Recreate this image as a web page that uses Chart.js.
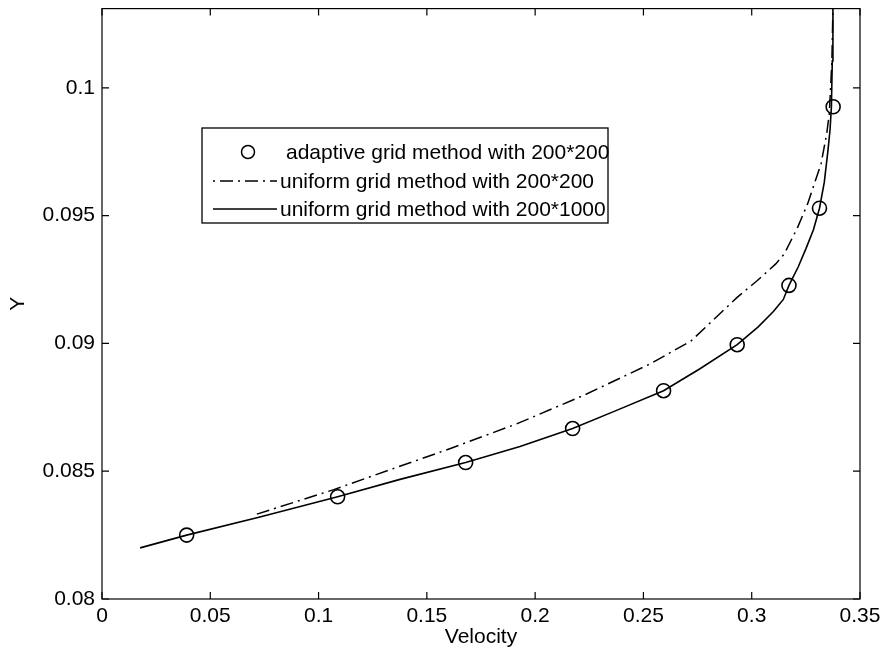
<!DOCTYPE html>
<html><head><meta charset="utf-8">
<script src="https://cdn.jsdelivr.net/npm/chart.js@4/dist/chart.umd.min.js"></script>
<style>html,body{margin:0;padding:0;background:#fff}#wrap{width:887px;height:650px}</style>
</head><body><div id="wrap"><canvas id="c" width="887" height="650"></canvas></div>
<script>
// ---- data ----
const adaptiveX = [0.0391, 0.1088, 0.1679, 0.2173, 0.2593, 0.2933, 0.3172, 0.3313, 0.3376];
const adaptiveY = [0.0825, 0.0840, 0.08534, 0.08667, 0.08815, 0.08995, 0.09227, 0.09529, 0.09926];

const uniform200X = [0.0715, 0.107, 0.1609, 0.1917, 0.2225, 0.2534, 0.2720, 0.2934, 0.3026, 0.3111, 0.3150, 0.3212, 0.3258, 0.3320, 0.3346, 0.3358, 0.3370, 0.3375];
const uniform200Y = [0.08332, 0.08428, 0.08589, 0.08686, 0.08797, 0.08921, 0.09010, 0.09181, 0.09246, 0.09311, 0.09350, 0.09454, 0.09546, 0.09702, 0.09819, 0.09897, 0.10100, 0.1031];

const uniform1000X = [0.0176, 0.0391, 0.0729, 0.1088, 0.1376, 0.1679, 0.1930, 0.2173, 0.2376, 0.2593, 0.2761, 0.2933, 0.3030, 0.3100, 0.3146, 0.3172, 0.3215, 0.3250, 0.3285, 0.3313, 0.3335, 0.3352, 0.3362, 0.3368, 0.3372, 0.3375];
const uniform1000Y = [0.0820, 0.0825, 0.08321, 0.0840, 0.08468, 0.08534, 0.08597, 0.08667, 0.08738, 0.08815, 0.08901, 0.08995, 0.09065, 0.09125, 0.09172, 0.09227, 0.09300, 0.09370, 0.09445, 0.09529, 0.09630, 0.09754, 0.09840, 0.09926, 0.10105, 0.1031];

const seriesNames = ['adaptive grid method with 200*200', 'uniform grid method with 200*200', 'uniform grid method with 200*1000'];
const xTicks = [0, 0.05, 0.1, 0.15, 0.2, 0.25, 0.3, 0.35];
const yTicks = [0.08, 0.085, 0.09, 0.095, 0.1];
const xTitle = 'Velocity';
const yTitle = 'Y';

// ---- build ----
const toPts = (xs, ys) => xs.map((x, i) => ({x: x, y: ys[i]}));
const FONT = 'Liberation Sans, Arial, Helvetica, sans-serif';
const DASHDOT = [13, 5, 2, 5];

const boxTicks = {
  id: 'boxTicks',
  afterDraw(chart) {
    const {ctx, chartArea: a, scales} = chart;
    ctx.save();
    ctx.strokeStyle = '#000';
    ctx.lineWidth = 1.2;
    ctx.setLineDash([]);
    ctx.strokeRect(a.left, a.top, a.right - a.left, a.bottom - a.top);
    const L = 7;
    ctx.beginPath();
    xTicks.forEach(v => {
      const px = scales.x.getPixelForValue(v);
      ctx.moveTo(px, a.bottom); ctx.lineTo(px, a.bottom - L);
      ctx.moveTo(px, a.top); ctx.lineTo(px, a.top + L);
    });
    yTicks.forEach(v => {
      const py = scales.y.getPixelForValue(v);
      ctx.moveTo(a.left, py); ctx.lineTo(a.left + L, py);
      ctx.moveTo(a.right, py); ctx.lineTo(a.right - L, py);
    });
    ctx.stroke();

    // legend box
    const bx = 202, by = 128, bw = 406, bh = 95;
    ctx.fillStyle = '#fff';
    ctx.fillRect(bx, by, bw, bh);
    ctx.lineWidth = 1.3;
    ctx.strokeRect(bx, by, bw, bh);
    const rows = [152, 181, 209];
    const textX = [286, 280, 280];
    ctx.font = '21px ' + FONT;
    ctx.fillStyle = '#000';
    ctx.textBaseline = 'middle';
    ctx.textAlign = 'left';
    ctx.lineWidth = 1.5;
    ctx.beginPath(); ctx.arc(248, rows[0], 6.5, 0, Math.PI * 2); ctx.stroke();
    ctx.setLineDash([2, 5, 13, 5]);
    ctx.beginPath(); ctx.moveTo(213, rows[1]); ctx.lineTo(277, rows[1]); ctx.stroke();
    ctx.setLineDash([]);
    ctx.beginPath(); ctx.moveTo(213, rows[2]); ctx.lineTo(277, rows[2]); ctx.stroke();
    seriesNames.forEach((n, i) => ctx.fillText(n, textX[i], rows[i] + 1));
    ctx.restore();
  }
};

new Chart(document.getElementById('c'), {
  type: 'scatter',
  data: {
    datasets: [
      {label: seriesNames[2], data: toPts(uniform1000X, uniform1000Y), showLine: true, borderColor: '#000', borderWidth: 1.6, pointRadius: 0, tension: 0, fill: false},
      {label: seriesNames[1], data: toPts(uniform200X, uniform200Y), showLine: true, borderColor: '#000', borderWidth: 1.5, borderDash: DASHDOT, pointRadius: 0, tension: 0, fill: false},
      {label: seriesNames[0], data: toPts(adaptiveX, adaptiveY), showLine: false, borderColor: '#000', backgroundColor: 'rgba(0,0,0,0)', borderWidth: 1.6, pointRadius: 7, pointStyle: 'circle'}
    ]
  },
  options: {
    responsive: false,
    animation: false,
    devicePixelRatio: 1,
    layout: {padding: {top: 8, right: 27, left: 0, bottom: 0}},
    plugins: {legend: {display: false}, tooltip: {enabled: false}},
    scales: {
      x: {
        type: 'linear', min: 0, max: 0.35,
        afterBuildTicks: s => { s.ticks = xTicks.map(v => ({value: v})); },
        afterFit: s => { s.height = 51; s.paddingLeft = 0; s.paddingRight = 0; },
        grid: {display: false, drawTicks: false},
        border: {display: false},
        ticks: {color: '#000', font: {family: FONT, size: 21}, padding: 5, maxRotation: 0, autoSkip: false, callback: v => String(v)},
        title: {display: true, text: xTitle, color: '#000', font: {family: FONT, size: 21}, padding: {top: 0, bottom: 0}}
      },
      y: {
        type: 'linear', min: 0.08, max: 0.1031,
        afterBuildTicks: s => { s.ticks = yTicks.map(v => ({value: v})); },
        afterFit: s => { s.width = 102; s.paddingTop = 0; s.paddingBottom = 0; },
        grid: {display: false, drawTicks: false},
        border: {display: false},
        ticks: {color: '#000', font: {family: FONT, size: 21}, padding: 7, autoSkip: false, callback: v => String(v)},
        title: {display: true, text: yTitle, color: '#000', font: {family: FONT, size: 21}, padding: {top: 6, bottom: 0}}
      }
    }
  },
  plugins: [boxTicks]
});
</script>
</body></html>
